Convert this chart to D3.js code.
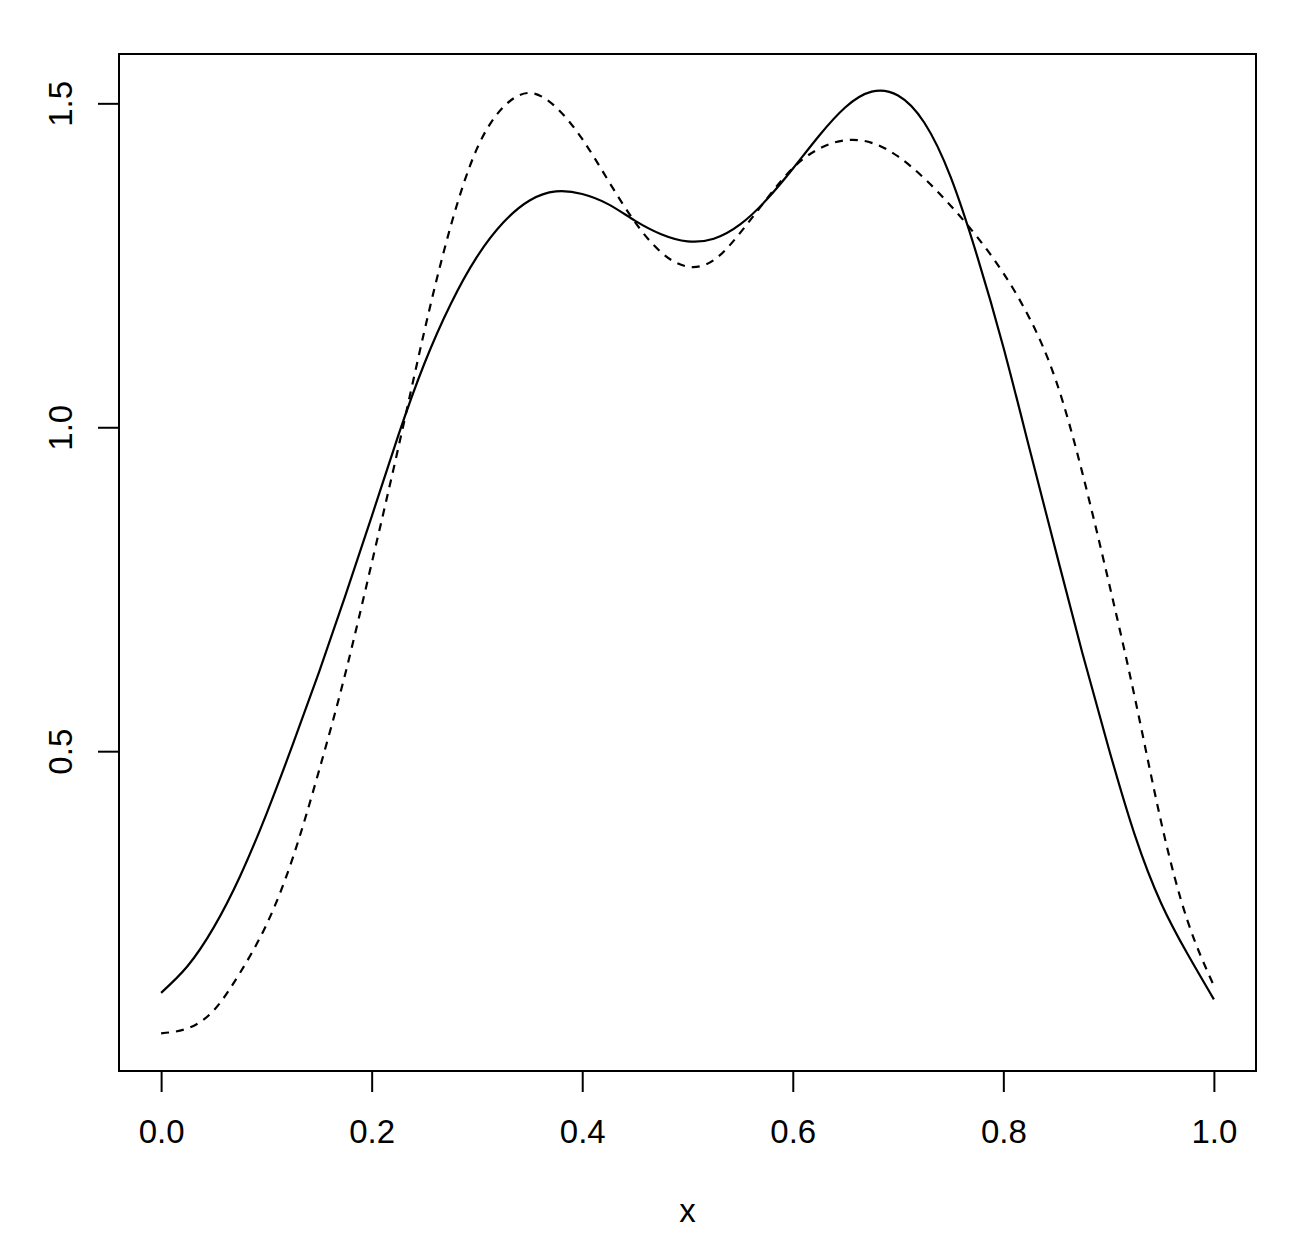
<!DOCTYPE html>
<html>
<head>
<meta charset="utf-8">
<script src="https://cdn.jsdelivr.net/npm/d3@7"></script>
<style>
  html, body { margin: 0; padding: 0; background: #fff; }
  svg { display: block; }
  text { font-family: "Liberation Sans", Arial, Helvetica, sans-serif; fill: #000; }
</style>
</head>
<body>
<svg id="chart" width="1316" height="1258"></svg>
<script>
// ---- data ----
const xValues = [0, 0.025, 0.05, 0.075, 0.1, 0.125, 0.15, 0.175, 0.2, 0.225,
                 0.25, 0.275, 0.3, 0.325, 0.35, 0.375, 0.4, 0.425, 0.45, 0.475,
                 0.5, 0.525, 0.55, 0.575, 0.6, 0.625, 0.65, 0.675, 0.7, 0.725,
                 0.75, 0.775, 0.8, 0.825, 0.85, 0.875, 0.9, 0.925, 0.95, 0.975, 1.0];
const solidValues = [0.127, 0.168, 0.228, 0.307, 0.403, 0.510, 0.622, 0.740, 0.862, 0.986,
                     1.098, 1.190, 1.263, 1.316, 1.350, 1.364, 1.360, 1.344, 1.319, 1.298,
                     1.287, 1.291, 1.313, 1.351, 1.399, 1.450, 1.494, 1.518, 1.512, 1.470,
                     1.386, 1.265, 1.124, 0.966, 0.808, 0.652, 0.505, 0.370, 0.265, 0.187, 0.117];
const dashedValues = [0.0645, 0.072, 0.100, 0.158, 0.232, 0.335, 0.470, 0.620, 0.790, 0.966,
                      1.148, 1.310, 1.430, 1.494, 1.516, 1.494, 1.445, 1.380, 1.317, 1.270,
                      1.248, 1.258, 1.300, 1.352, 1.400, 1.430, 1.443, 1.439, 1.418, 1.384,
                      1.342, 1.294, 1.238, 1.168, 1.072, 0.930, 0.762, 0.582, 0.390, 0.238, 0.138];
const xTicks = [0, 0.2, 0.4, 0.6, 0.8, 1.0];
const xTickLabels = ["0.0", "0.2", "0.4", "0.6", "0.8", "1.0"];
const yTicks = [0.5, 1.0, 1.5];
const yTickLabels = ["0.5", "1.0", "1.5"];
const xLabel = "x";

// ---- layout ----
const box = { left: 119, right: 1256, top: 54, bottom: 1071 };
const svg = d3.select("#chart");

const allY = solidValues.concat(dashedValues);
const yMin = d3.min(allY), yMax = d3.max(allY);
const yPad = (yMax - yMin) * 0.04;
const xPad = 0.04;

const x = d3.scaleLinear().domain([0 - xPad, 1 + xPad]).range([box.left, box.right]);
const y = d3.scaleLinear().domain([yMin - yPad, yMax + yPad]).range([box.bottom, box.top]);

const line = d3.line()
  .x((d, i) => x(xValues[i]))
  .y(d => y(d))
  .curve(d3.curveNatural);

// curves
svg.append("path")
  .datum(solidValues)
  .attr("d", line)
  .attr("fill", "none")
  .attr("stroke", "#000")
  .attr("stroke-width", 2.2);

svg.append("path")
  .datum(dashedValues)
  .attr("d", line)
  .attr("fill", "none")
  .attr("stroke", "#000")
  .attr("stroke-width", 2.2)
  .attr("stroke-dasharray", "8,7");

// plot box
svg.append("rect")
  .attr("x", box.left).attr("y", box.top)
  .attr("width", box.right - box.left).attr("height", box.bottom - box.top)
  .attr("fill", "none").attr("stroke", "#000").attr("stroke-width", 2);

// x axis (R style: line spanning first to last tick)
const xAxis = d3.axisBottom(x)
  .tickValues(xTicks)
  .tickFormat((d, i) => xTickLabels[i])
  .tickSize(21)
  .tickSizeOuter(0);
const gx = svg.append("g").attr("transform", `translate(0,${box.bottom})`).call(xAxis);
gx.select(".domain").attr("d", `M${x(xTicks[0])},0H${x(xTicks[xTicks.length - 1])}`)
  .attr("stroke-width", 2);
gx.selectAll(".tick line").attr("stroke-width", 2);
gx.selectAll(".tick text")
  .attr("font-size", 33)
  .attr("font-family", "Liberation Sans, Arial, sans-serif")
  .attr("dy", null)
  .attr("y", 72);

// y axis
const yAxis = d3.axisLeft(y)
  .tickValues(yTicks)
  .tickFormat((d, i) => yTickLabels[i])
  .tickSize(21)
  .tickSizeOuter(0);
const gy = svg.append("g").attr("transform", `translate(${box.left},0)`).call(yAxis);
gy.select(".domain").attr("d", `M0,${y(yTicks[0])}V${y(yTicks[yTicks.length - 1])}`)
  .attr("stroke-width", 2);
gy.selectAll(".tick line").attr("stroke-width", 2);
gy.selectAll(".tick text")
  .attr("font-size", 33)
  .attr("font-family", "Liberation Sans, Arial, sans-serif")
  .attr("x", null).attr("dy", null)
  .attr("text-anchor", "middle")
  .attr("transform", `translate(-47,0) rotate(-90)`);

// axis title
svg.append("text")
  .attr("x", x(0.5))
  .attr("y", 1222)
  .attr("text-anchor", "middle")
  .attr("font-size", 33)
  .text(xLabel);
</script>
</body>
</html>
